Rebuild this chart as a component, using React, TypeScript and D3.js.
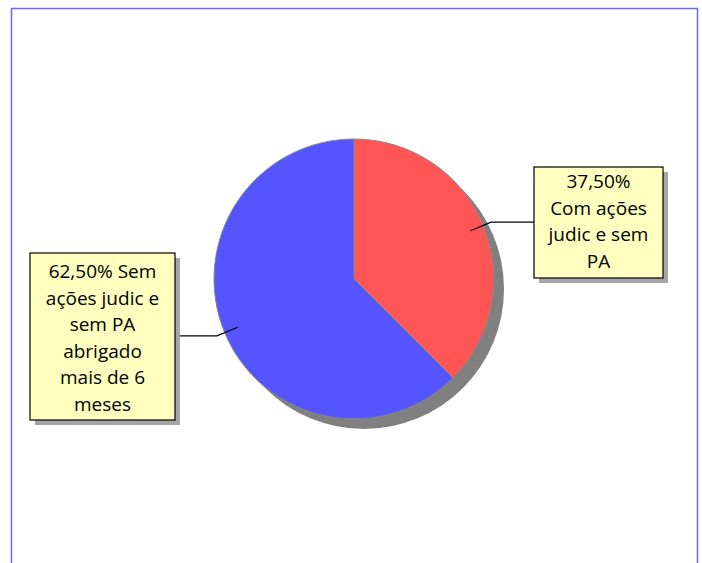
import React, { useEffect, useRef } from 'react';
import * as d3 from 'd3';

// slices, clockwise from 12 o'clock
const categories = ['Com ações judic e sem PA', 'Sem ações judic e sem PA abrigado mais de 6 meses'];
const values = [37.5, 62.5];
const colors = ['#FF5555', '#5555FF'];
// label text as it wraps inside each callout box
const labelLines = [
  ['37,50%', 'Com ações', 'judic e sem', 'PA'],
  ['62,50% Sem', 'ações judic e', 'sem PA', 'abrigado', 'mais de 6', 'meses'],
];

const W = 702;
const H = 563;

export default function App() {
  const ref = useRef<SVGSVGElement>(null);

  useEffect(() => {
    const svg = d3.select(ref.current);
    svg.selectAll('*').remove();

    // outer frame
    svg.append('rect')
      .attr('x', 11.5).attr('y', 8.5)
      .attr('width', 686).attr('height', 600)
      .attr('fill', '#fff')
      .attr('stroke', '#6a6aff').attr('stroke-width', 1.5);

    const cx = 354, cy = 279, R = 140;
    const data = categories.map((c, i) => ({ name: c, value: values[i], color: colors[i], lines: labelLines[i] }));

    const pie = d3.pie<any>().sort(null).value(d => d.value);
    const arc = d3.arc<any>().innerRadius(0).outerRadius(R);
    const arcs = pie(data);

    const g = svg.append('g').attr('transform', `translate(${cx},${cy})`);

    // drop shadow of the pie
    g.append('circle')
      .attr('cx', 10).attr('cy', 10).attr('r', R)
      .attr('fill', '#808080');

    g.selectAll('path.slice')
      .data(arcs)
      .join('path')
      .attr('class', 'slice')
      .attr('d', arc)
      .attr('fill', d => d.data.color)
      .attr('stroke', '#888')
      .attr('stroke-width', 1);

    // callout boxes (layout)
    const boxes = [
      { x: 534, y: 167, w: 129, h: 111, ly: 188 },
      { x: 30, y: 253, w: 145, h: 167, ly: 278 },
    ];
    const lineH = 26.6;

    arcs.forEach((a, i) => {
      const b = boxes[i];
      const mid = (a.startAngle + a.endAngle) / 2;
      const p1 = [cx + 0.9 * R * Math.sin(mid), cy - 0.9 * R * Math.cos(mid)];
      const p2 = [cx + 1.06 * R * Math.sin(mid), cy - 1.06 * R * Math.cos(mid)];
      const right = Math.sin(mid) > 0;
      const p3 = [right ? b.x : b.x + b.w, p2[1]];
      svg.append('polyline')
        .attr('points', [p1, p2, p3].map(p => p.join(',')).join(' '))
        .attr('fill', 'none')
        .attr('stroke', '#000')
        .attr('stroke-width', 1.2);

      svg.append('rect')
        .attr('x', b.x + 5).attr('y', b.y + 5)
        .attr('width', b.w).attr('height', b.h)
        .attr('fill', '#a6a6a6');
      svg.append('rect')
        .attr('x', b.x).attr('y', b.y)
        .attr('width', b.w).attr('height', b.h)
        .attr('fill', '#FFFFC0')
        .attr('stroke', '#000').attr('stroke-width', 1.2);

      const t = svg.append('text')
        .attr('text-anchor', 'middle')
        .attr('font-family', '"Open Sans", sans-serif')
        .attr('font-size', 19)
        .attr('fill', '#000');
      a.data.lines.forEach((ln: string, k: number) => {
        t.append('tspan')
          .attr('x', b.x + b.w / 2)
          .attr('y', b.ly + k * lineH)
          .text(ln);
      });
    });
  }, []);

  return (
    <svg ref={ref} width={W} height={H}
      style={{ position: 'absolute', left: 0, top: 0, display: 'block' }} />
  );
}
